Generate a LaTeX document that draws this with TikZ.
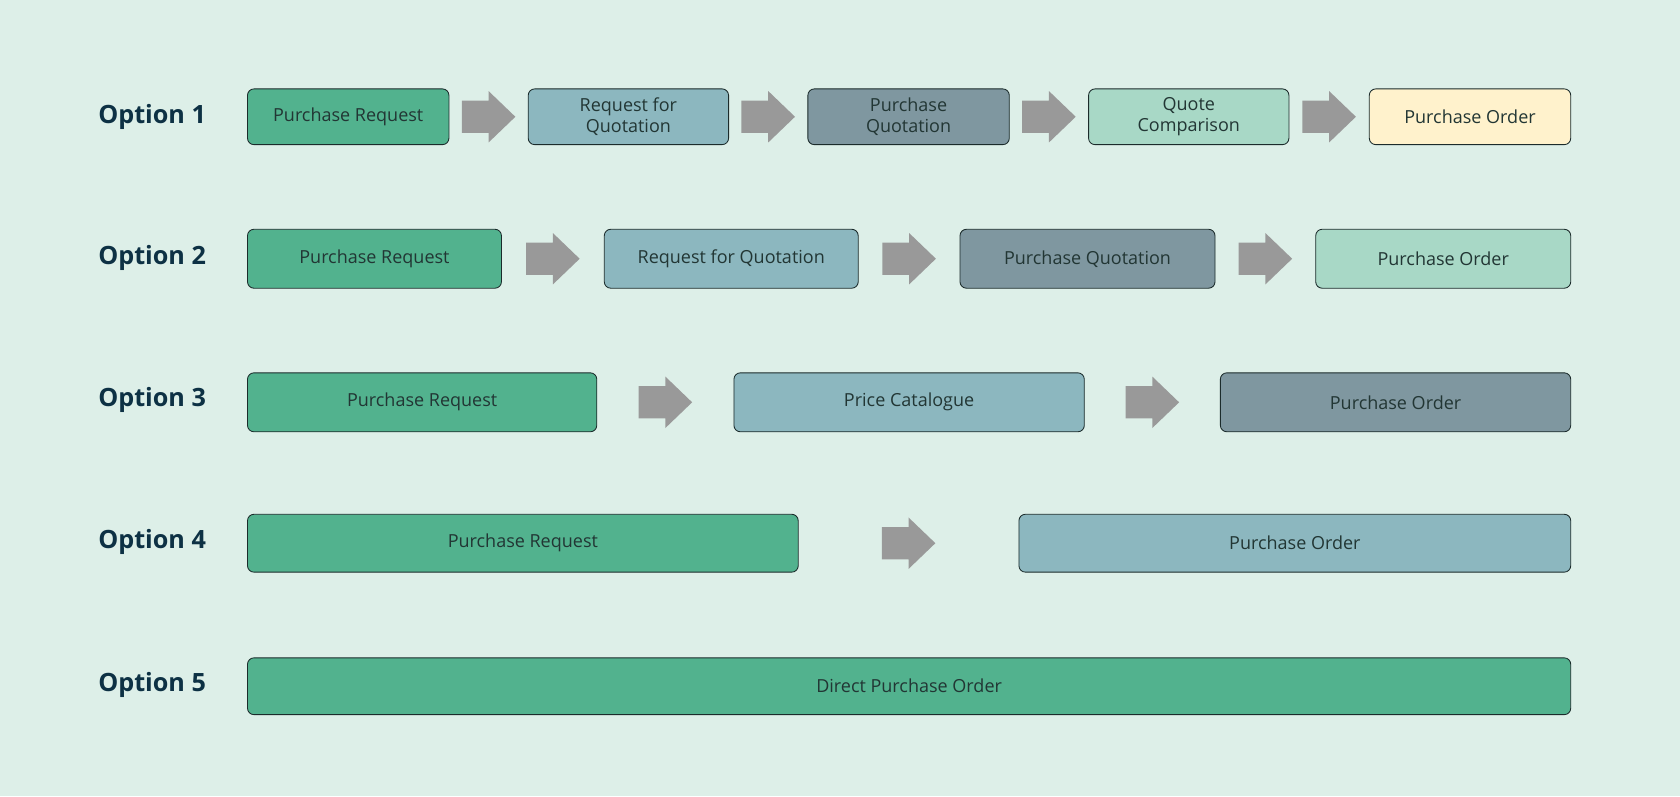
\documentclass[tikz,border=0pt]{standalone}
\usepackage{fontspec}
\setmainfont{Open Sans}
\usetikzlibrary{calc}
\definecolor{bg}{HTML}{DDEFE8}
\definecolor{cgreen}{HTML}{52B28E}
\definecolor{cblue}{HTML}{8CB7BF}
\definecolor{cslate}{HTML}{7F97A0}
\definecolor{cmint}{HTML}{A8D8C6}
\definecolor{cyellow}{HTML}{FFF2CC}
\definecolor{carrow}{HTML}{999999}
\definecolor{ctext}{HTML}{223634}
\definecolor{clabel}{HTML}{0D3144}
\definecolor{cedge}{HTML}{1B2B2B}
\tikzset{
  x=1pt, y=1pt,
  boxnode/.style={draw=cedge, line width=0.8pt, rounded corners=6pt, text=ctext,
    font=\fontsize{16.8}{19.5}\selectfont, align=center, inner sep=0pt},
  rowa/.style={boxnode, minimum height=52pt},
  rowb/.style={boxnode, minimum height=55pt},
  optlabel/.style={text=clabel, font=\fontsize{23.5}{26}\selectfont\bfseries, inner sep=0pt},
  arrowfill/.style={fill=carrow, draw=none}
}
\newcommand\blockarrow[2]{%
  \fill[arrowfill] ($(#1.east)!0.5!(#2.west)$) ++(-25,-15) -- ++(25,0) -- ++(0,-9)
    -- ++(25,24) -- ++(-25,24) -- ++(0,-9) -- ++(-25,0) -- cycle;}
\begin{document}
\begin{tikzpicture}
\fill[bg] (0,0) rectangle (1568,743);
\useasboundingbox (0,0) rectangle (1568,743);
% labels
\node[optlabel] (l1) at (142,634) {Option 1};
\node[optlabel] (l2) at (142,502) {Option 2};
\node[optlabel] (l3) at (142,370) {Option 3};
\node[optlabel] (l4) at (142,237) {Option 4};
\node[optlabel] (l5) at (142,104) {Option 5};
% row 1
\node[rowa, fill=cgreen, minimum width=188pt] (a1) at (325,634) {Purchase Request};
\node[rowa, fill=cblue, minimum width=187pt] (a2) at (586.5,634) {Request for\\Quotation};
\node[rowa, fill=cslate, minimum width=188pt] (a3) at (848,634) {Purchase\\Quotation};
\node[rowa, fill=cmint, minimum width=187pt] (a4) at (1109.5,634) {Quote\\Comparison};
\node[rowa, fill=cyellow, minimum width=188pt] (a5) at (1372,634) {Purchase Order};
\blockarrow{a1}{a2}\blockarrow{a2}{a3}\blockarrow{a3}{a4}\blockarrow{a4}{a5}
% row 2
\node[rowb, fill=cgreen, minimum width=237pt] (b1) at (349.5,501.5) {Purchase Request};
\node[rowb, fill=cblue, minimum width=237pt] (b2) at (682.5,501.5) {Request for Quotation};
\node[rowb, fill=cslate, minimum width=238pt] (b3) at (1015,501.5) {Purchase Quotation};
\node[rowb, fill=cmint, minimum width=238pt] (b4) at (1347,501.5) {Purchase Order};
\blockarrow{b1}{b2}\blockarrow{b2}{b3}\blockarrow{b3}{b4}
% row 3
\node[rowb, fill=cgreen, minimum width=326pt] (c1) at (394,367.5) {Purchase Request};
\node[rowb, fill=cblue, minimum width=327pt] (c2) at (848.5,367.5) {Price Catalogue};
\node[rowb, fill=cslate, minimum width=327pt] (c3) at (1302.5,367.5) {Purchase Order};
\blockarrow{c1}{c2}\blockarrow{c2}{c3}
% row 4
\node[rowb, fill=cgreen, minimum width=514pt, minimum height=54pt] (d1) at (488,236) {Purchase Request};
\node[rowb, fill=cblue, minimum width=515pt, minimum height=54pt] (d2) at (1208.5,236) {Purchase Order};
\blockarrow{d1}{d2}
% row 5
\node[rowb, fill=cgreen, minimum width=1235pt, minimum height=53pt] (e1) at (848.5,102.5) {Direct Purchase Order};
\end{tikzpicture}
\end{document}
